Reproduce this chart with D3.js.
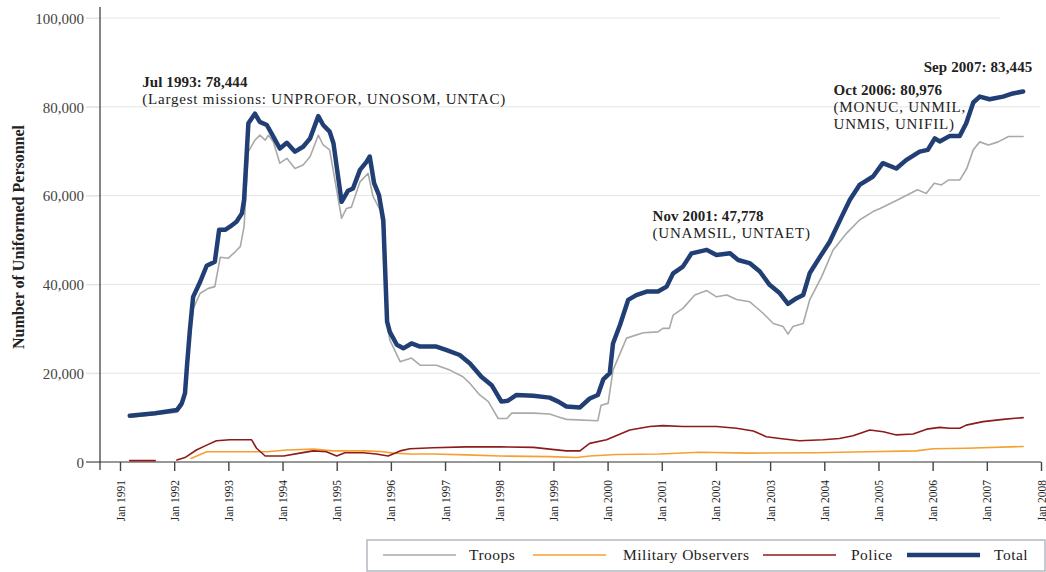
<!DOCTYPE html>
<html><head><meta charset="utf-8">
<script src="https://cdn.jsdelivr.net/npm/d3@7"></script>
<style>
body{margin:0;background:#fff;}
svg{display:block;font-family:"Liberation Serif","DejaVu Serif",serif;}
</style></head>
<body><svg id="c" width="1046" height="572"></svg>
<script>
// ---- data (decimal years, personnel) ----
const totalDates = [1991.18,1991.65,1992.05,1992.14,1992.20,1992.24,1992.29,1992.35,1992.48,1992.60,1992.75,1992.83,1992.94,1993.03,1993.15,1993.25,1993.29,1993.37,1993.49,1993.58,1993.71,1993.83,1993.95,1994.08,1994.23,1994.38,1994.51,1994.66,1994.75,1994.87,1994.94,1995.09,1995.21,1995.30,1995.43,1995.55,1995.61,1995.69,1995.78,1995.86,1995.93,1995.98,1996.11,1996.23,1996.38,1996.54,1996.84,1997.03,1997.27,1997.46,1997.67,1997.86,1998.04,1998.16,1998.32,1998.63,1998.93,1999.09,1999.24,1999.49,1999.67,1999.82,1999.92,2000.04,2000.10,2000.23,2000.38,2000.53,2000.72,2000.93,2001.09,2001.21,2001.39,2001.55,2001.83,2002.01,2002.26,2002.41,2002.62,2002.81,2002.99,2003.18,2003.33,2003.49,2003.61,2003.73,2003.92,2004.10,2004.35,2004.47,2004.65,2004.90,2005.08,2005.33,2005.51,2005.76,2005.91,2006.04,2006.13,2006.31,2006.50,2006.62,2006.75,2006.87,2007.05,2007.30,2007.48,2007.67];
const totalValues = [10400,11000,11700,13200,15500,22200,29700,37200,40600,44200,45100,52300,52300,53000,54100,56000,59000,76300,78444,76600,75900,73300,70600,71900,69900,71000,72900,77900,75900,74400,71800,58600,61100,61600,65800,67600,68800,62800,60100,54500,31600,29300,26400,25600,26700,26000,26000,25200,24100,22200,19200,17300,13600,13800,15100,14900,14500,13600,12500,12300,14300,15100,18600,20000,26700,30900,36500,37600,38400,38400,39500,42500,44000,47000,47778,46600,47000,45500,44800,42900,39900,38000,35600,36900,37600,42500,46200,49600,56000,59000,62400,64300,67300,66100,68000,69900,70300,72900,72200,73400,73400,76300,80976,82300,81700,82300,83000,83445];

const troopDates = [1991.18,1991.65,1992.05,1992.14,1992.20,1992.29,1992.35,1992.48,1992.63,1992.75,1992.85,1993.00,1993.13,1993.22,1993.29,1993.37,1993.49,1993.58,1993.68,1993.74,1993.83,1993.95,1994.08,1994.23,1994.38,1994.51,1994.66,1994.75,1994.87,1995.09,1995.18,1995.27,1995.43,1995.58,1995.67,1995.80,1995.89,1995.93,1995.95,1995.98,1996.17,1996.38,1996.54,1996.84,1997.09,1997.33,1997.46,1997.64,1997.80,1997.98,1998.14,1998.23,1998.63,1998.93,1999.11,1999.24,1999.82,1999.88,2000.01,2000.10,2000.35,2000.66,2000.93,2001.02,2001.14,2001.21,2001.39,2001.61,2001.83,2002.01,2002.20,2002.38,2002.62,2002.87,2003.06,2003.24,2003.33,2003.42,2003.61,2003.73,2003.95,2004.16,2004.41,2004.65,2004.90,2005.03,2005.35,2005.72,2005.88,2006.03,2006.16,2006.29,2006.50,2006.63,2006.75,2006.87,2007.03,2007.21,2007.40,2007.67];
const troopValues = [10100,10700,11200,12500,14500,28000,34500,38000,39100,39500,46100,45900,47400,48500,53000,69900,72500,73600,72500,73600,72100,67300,68400,66100,66900,68800,73600,71400,70300,54900,57100,57400,63100,65000,59800,56800,49300,36500,29700,27500,22600,23400,21800,21800,20700,19200,17700,15100,13600,9800,9800,11000,11000,10800,10100,9600,9300,12800,13200,20700,27900,29100,29300,30100,30100,33100,34600,37600,38600,37200,37600,36600,36100,33500,31200,30500,28800,30500,31200,36500,41700,47700,51500,54500,56400,57100,59000,61300,60500,62800,62400,63500,63500,66100,70300,72100,71400,72100,73300,73300];

const observerDates = [1992.31,1992.60,1992.85,1993.71,1994.08,1994.57,1994.94,1995.55,1995.86,1996.04,1996.35,1996.78,1997.40,1998.01,1998.93,1999.43,1999.67,2000.16,2000.96,2001.70,2002.62,2003.85,2004.78,2005.70,2006.01,2006.62,2007.67];
const observerValues = [800,2300,2300,2300,2700,2900,2500,2500,2300,2000,1800,1800,1600,1350,1200,1000,1350,1700,1800,2200,2000,2100,2300,2500,3000,3100,3500];

const policeDates = [1991.18,1991.65,1991.80,1992.05,1992.20,1992.41,1992.60,1992.78,1993.03,1993.43,1993.52,1993.68,1994.02,1994.32,1994.57,1994.81,1995.00,1995.15,1995.49,1995.73,1995.95,1996.17,1996.35,1996.78,1997.40,1998.01,1998.63,1998.93,1999.24,1999.49,1999.67,1999.98,2000.41,2000.78,2001.02,2001.39,2002.01,2002.38,2002.69,2002.93,2003.18,2003.54,2003.98,2004.28,2004.53,2004.84,2005.09,2005.33,2005.64,2005.89,2006.13,2006.31,2006.50,2006.62,2006.93,2007.30,2007.67];
const policeValues = [300,300,null,450,1000,2700,3800,4800,5000,5000,3100,1350,1350,2000,2500,2300,1350,2100,2100,1800,1350,2500,3000,3200,3400,3400,3300,2900,2500,2500,4200,5000,7200,8000,8200,8000,8000,7600,7000,5700,5300,4800,5000,5300,5900,7200,6800,6100,6300,7400,7800,7600,7600,8300,9100,9600,10000];

const yTicks = [0,20000,40000,60000,80000,100000];
const xTickYears = d3.range(1991, 2009);
const seriesNames = ["Troops","Military Observers","Police","Total"];
const seriesColors = ["#a9a9a9","#f5a031","#8e1b1b","#213f74"];
const annotations = [
  {lines:["Jul 1993: 78,444","(Largest missions: UNPROFOR, UNOSOM, UNTAC)"], x:1991.41, y:84450},
  {lines:["Nov 2001: 47,778","(UNAMSIL, UNTAET)"], x:2000.83, y:54300},
  {lines:["Oct 2006: 80,976","(MONUC, UNMIL,","UNMIS, UNIFIL)"], x:2004.17, y:82600},
  {lines:["Sep 2007: 83,445"], x:2007.84, y:87800, anchor:"end"}
];

// ---- chart ----
const svg = d3.select("#c");
const x = d3.scaleLinear().domain([1991, 2008]).range([120, 1041]);
const y = d3.scaleLinear().domain([0, 100000]).range([462, 18]);

// gridlines
svg.append("g").selectAll("line").data(yTicks.filter(d=>d>0)).join("line")
  .attr("x1", 86).attr("x2", d=> d===100000 ? 1000 : 1040)
  .attr("y1", d=>y(d)).attr("y2", d=>y(d))
  .attr("stroke", "#e4e4e4").attr("stroke-width", 1);

// y axis
const yAxis = svg.append("g").attr("transform","translate(100,0)")
  .call(d3.axisLeft(y).tickValues(yTicks).tickSize(14).tickFormat(d3.format(",")));
yAxis.select(".domain").remove();
yAxis.selectAll(".tick line").attr("stroke","#e4e4e4");
yAxis.selectAll(".tick text").attr("font-family","Liberation Serif").attr("font-size",15)
  .attr("fill","#444").attr("x",-16).attr("dy","0.35em");
svg.append("line").attr("x1",100).attr("x2",100).attr("y1",7).attr("y2",470)
  .attr("stroke","#333").attr("stroke-width",1.2);

// x axis
const xAxis = svg.append("g").attr("transform",`translate(0,${y(0)})`)
  .call(d3.axisBottom(x).tickValues(xTickYears).tickSize(9).tickFormat(d=>"Jan "+d));
xAxis.select(".domain").attr("d", `M86,0H1041`).attr("stroke","#333").attr("stroke-width",1.2);
xAxis.selectAll(".tick line").attr("stroke","#444").attr("stroke-width",1.4);
xAxis.selectAll(".tick text")
  .attr("transform","rotate(-90)").attr("text-anchor","end")
  .attr("x",-18).attr("y",0).attr("dy","0.35em")
  .attr("font-family","Liberation Serif").attr("font-size",11.5).attr("fill","#222");

// y label
svg.append("text").attr("transform","translate(24,237) rotate(-90)")
  .attr("text-anchor","middle").attr("font-weight","bold").attr("font-size",16)
  .attr("fill","#222").text("Number of Uniformed Personnel");

// lines
function mk(dates, vals){ return dates.map((d,i)=>({d, v: vals[i]})); }
const series = [
  {data: mk(troopDates, troopValues), w:1.6},
  {data: mk(observerDates, observerValues), w:1.6},
  {data: mk(policeDates, policeValues), w:1.6},
  {data: mk(totalDates, totalValues), w:4.5}
];
const line = d3.line().defined(p=>p.v!==null).x(p=>x(p.d)).y(p=>y(p.v));
svg.append("g").selectAll("path").data(series).join("path")
  .attr("d", s=>line(s.data)).attr("fill","none")
  .attr("stroke",(s,i)=>seriesColors[i]).attr("stroke-width",s=>s.w)
  .attr("stroke-linejoin","round").attr("stroke-linecap","round");

// annotations
const ag = svg.append("g");
annotations.forEach(a=>{
  const t = ag.append("text").attr("x", x(a.x)).attr("y", y(a.y))
    .attr("font-size",15).attr("fill","#222").attr("text-anchor", a.anchor||"start");
  a.lines.forEach((l,i)=>{
    t.append("tspan").attr("x", x(a.x)).attr("dy", i===0?0:17)
      .attr("font-weight", i===0?"bold":"normal")
      .attr("letter-spacing", i===0?0.1:0.8).text(l);
  });
});

// legend
const lg = svg.append("g");
lg.append("rect").attr("x",367).attr("y",540).attr("width",678).attr("height",31)
  .attr("fill","#fff").attr("stroke","#b5b8c2").attr("stroke-width",1.5);
const legX = [383, 533, 763, 907];
const legTextX = [469, 623, 851, 994];
seriesNames.forEach((n,i)=>{
  lg.append("line").attr("x1",legX[i]).attr("x2",legX[i]+73).attr("y1",555).attr("y2",555)
    .attr("stroke",seriesColors[i]).attr("stroke-width", i===3?4.5:1.4);
  lg.append("text").attr("x",legTextX[i]).attr("y",560).attr("font-size",15.5)
    .attr("letter-spacing",0.5).attr("fill","#222").text(n);
});
</script></body></html>
